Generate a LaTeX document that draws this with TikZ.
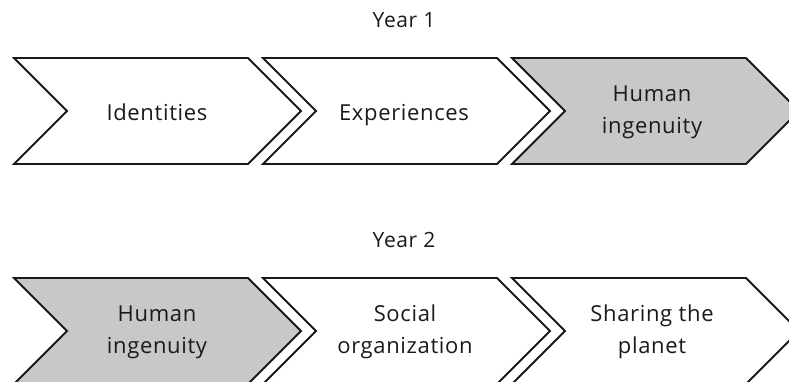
\documentclass[tikz,border=0pt]{standalone}
\usepackage{fontspec}
\setmainfont{Open Sans}[LetterSpace=3]
\definecolor{chevgray}{HTML}{C8C8C8}
\definecolor{txt}{HTML}{1A1A1A}
\tikzset{
  chev/.style={draw=black!90, line width=1.8pt, line join=miter},
  lbl/.style={text=txt, font=\fontsize{22}{32}\selectfont, align=center, inner sep=0pt},
  yr/.style={text=txt, font=\fontsize{21}{24}\selectfont, inner sep=0pt}
}
\newcommand{\chevron}[3]{% x0, top, fill
  \path[chev, fill=#3] (#1,#2) -- ++(234,0) -- ++(53,53) -- ++(-53,53) -- ++(-234,0) -- ++(53,-53) -- cycle;
}
\begin{document}
\begin{tikzpicture}[x=1pt,y=-1pt]
\useasboundingbox (0,0) rectangle (789,381);
\begin{scope}
\clip (0,0) rectangle (789,381);
\chevron{14}{58}{white}
\chevron{263}{58}{white}
\chevron{512}{58}{chevgray}
\chevron{14}{278}{chevgray}
\chevron{263}{278}{white}
\chevron{512}{278}{white}
\end{scope}
\node[yr, anchor=base] (y1) at (404,27) {Year 1};
\node[yr, anchor=base] (y2) at (404,247) {Year 2};
\node[lbl, anchor=base] (a1) at (157,120) {Identities};
\node[lbl, anchor=base] (a2) at (404,120) {Experiences};
\node[lbl] (a3) at (652,112) {Human\\ingenuity};
\node[lbl] (b1) at (157,332) {Human\\ingenuity};
\node[lbl] (b2) at (405,332) {Social\\organization};
\node[lbl] (b3) at (652,332) {Sharing the\\planet};
\end{tikzpicture}
\end{document}
